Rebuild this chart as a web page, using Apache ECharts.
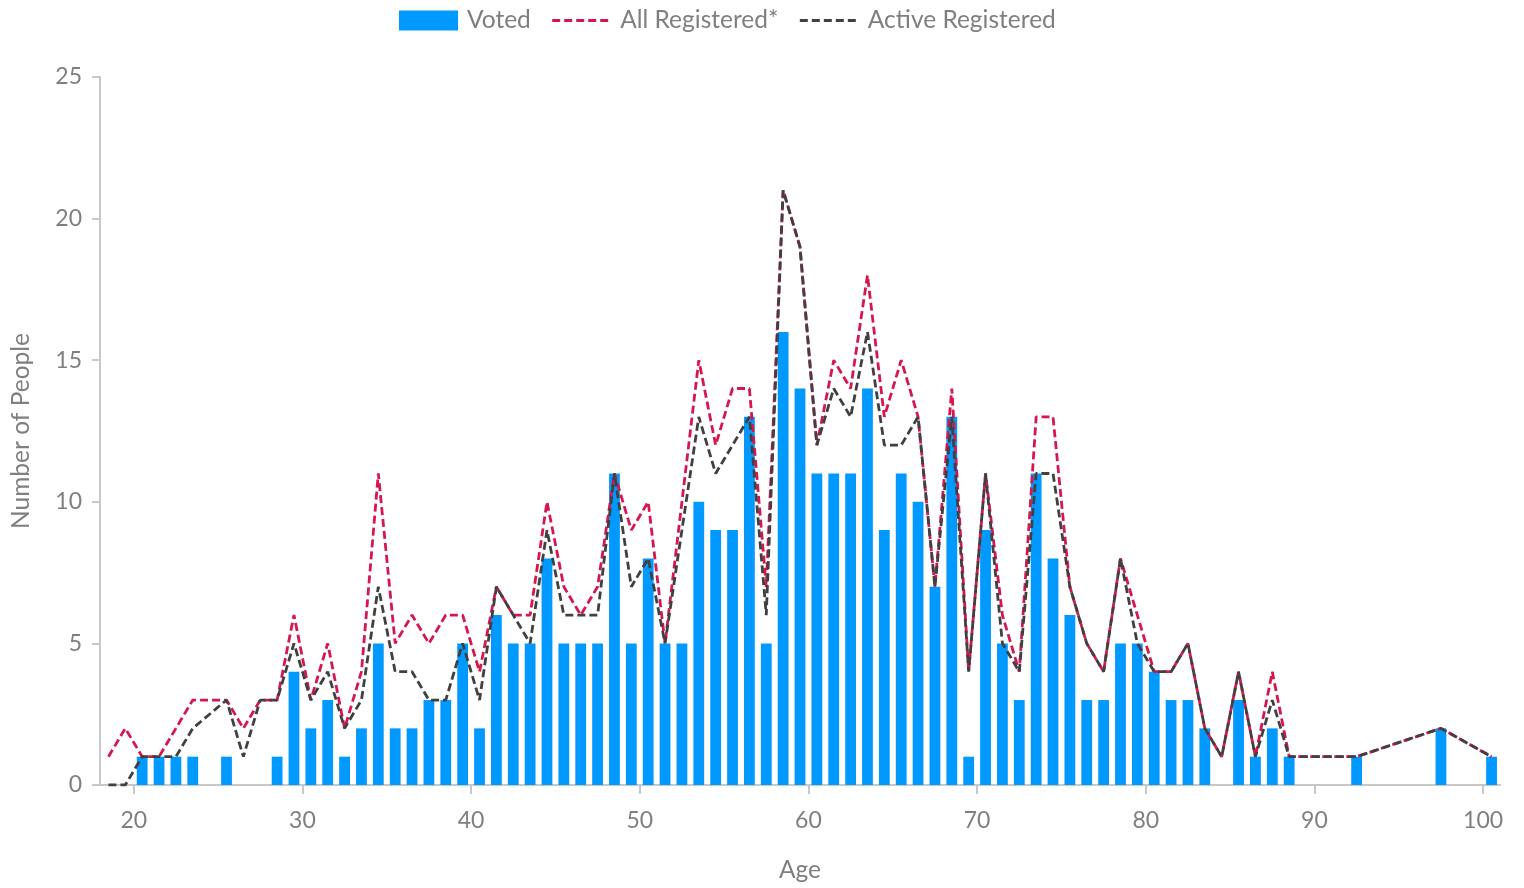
<!DOCTYPE html>
<html>
<head>
<meta charset="utf-8">
<script src="https://cdn.jsdelivr.net/npm/echarts@6/dist/echarts.min.js"></script>
<style>
html,body{margin:0;padding:0;background:#fff;}
#chart{width:1524px;height:888px;}
</style>
</head>
<body>
<div id="chart"></div>
<script>
// Ages 18..100 (categories)
const ages = [];
for (let a = 18; a <= 100; a++) ages.push(String(a));

// Voted (bars), ages 18..100
const voted = [
  0, 0, 1, 1, 1, 1, 0, 1, 0, 0,      // 18-27
  1, 4, 2, 3, 1, 2, 5, 2, 2, 3,      // 28-37
  3, 5, 2, 6, 5, 5, 8, 5, 5, 5,      // 38-47
  11, 5, 8, 5, 5, 10, 9, 9, 13, 5,   // 48-57
  16, 14, 11, 11, 11, 14, 9, 11, 10, 7, // 58-67
  13, 1, 9, 5, 3, 11, 8, 6, 3, 3,    // 68-77
  5, 5, 4, 3, 3, 2, 0, 3, 1, 2,      // 78-87
  1, 0, 0, 0, 1, 0, 0, 0, 0, 2,      // 88-97
  0, 0, 1                            // 98-100
];

// All Registered*, ages 18..100 (null = no data)
const allRegistered = [
  1, 2, 1, 1, 2, 3, null, 3, 2, 3,   // 18-27
  3, 6, 3, 5, 2, 4, 11, 5, 6, 5,     // 28-37
  6, 6, 4, 7, 6, 6, 10, 7, 6, 7,     // 38-47
  11, 9, 10, 5, 10, 15, 12, 14, 14, 7, // 48-57
  21, 19, 12, 15, 14, 18, 13, 15, 13, 7, // 58-67
  14, 4, 11, 6, 4, 13, 13, 7, 5, 4,  // 68-77
  8, 6, 4, 4, 5, 2, 1, 4, 1, 4,      // 78-87
  1, null, null, null, 1, null, null, null, null, 2, // 88-97
  null, null, 1                      // 98-100
];

// Active Registered, ages 18..100
const activeRegistered = [
  0, 0, 1, 1, 1, 2, null, 3, 1, 3,   // 18-27
  3, 5, 3, 4, 2, 3, 7, 4, 4, 3,      // 28-37
  3, 5, 3, 7, 6, 5, 9, 6, 6, 6,      // 38-47
  11, 7, 8, 5, 9, 13, 11, 12, 13, 6, // 48-57
  21, 19, 12, 14, 13, 16, 12, 12, 13, 7, // 58-67
  13, 4, 11, 5, 4, 11, 11, 7, 5, 4,  // 68-77
  8, 5, 4, 4, 5, 2, 1, 4, 1, 3,      // 78-87
  1, null, null, null, 1, null, null, null, null, 2, // 88-97
  null, null, 1                      // 98-100
];

const xTickLabels = [20, 30, 40, 50, 60, 70, 80, 90, 100];

const FONT = 'Lato';
const GREY_TEXT = '#7f7f7f';
const AXIS_GREY = '#c8c8c8';
const RED = '#d6174f';
const DARK = '#404040';

const chart = echarts.init(document.getElementById('chart'), null, {renderer: 'canvas'});
chart.setOption({
  animation: false,
  backgroundColor: '#ffffff',
  textStyle: {fontFamily: FONT},
  legend: {
    top: 3,
    left: 394,
    itemWidth: 59,
    itemHeight: 20,
    itemGap: 20,
    textStyle: {fontFamily: FONT, fontSize: 24.5, color: GREY_TEXT, padding: [0, 0, 0, 4]},
    data: [
      {name: 'Voted', icon: 'rect'},
      {name: 'All Registered*', itemStyle: {opacity: 0}, lineStyle: {width: 2.8, type: [8, 4], color: RED}},
      {name: 'Active Registered', itemStyle: {opacity: 0}, lineStyle: {width: 2.8, type: [8, 4], color: DARK}}
    ]
  },
  grid: {left: 100, right: 24, top: 77, bottom: 100, containLabel: false},
  xAxis: [
    {
      type: 'category',
      data: ages,
      boundaryGap: true,
      name: 'Age',
      nameLocation: 'middle',
      nameGap: 73,
      nameTextStyle: {fontFamily: FONT, fontSize: 24.5, color: GREY_TEXT},
      axisLine: {show: true, lineStyle: {color: AXIS_GREY, width: 2}},
      axisTick: {show: false},
      axisLabel: {show: false},
      splitLine: {show: false}
    },
    {
      type: 'value',
      min: 18,
      max: 101,
      position: 'bottom',
      axisLine: {show: false},
      axisTick: {show: true, length: 9, customValues: xTickLabels, lineStyle: {color: AXIS_GREY, width: 2}},
      axisLabel: {show: true, customValues: xTickLabels, margin: 24, fontFamily: FONT, fontSize: 23, color: GREY_TEXT},
      splitLine: {show: false}
    }
  ],
  yAxis: {
    type: 'value',
    min: 0,
    max: 25,
    interval: 5,
    name: 'Number of People',
    nameLocation: 'middle',
    nameGap: 66,
    nameTextStyle: {fontFamily: FONT, fontSize: 24.5, color: GREY_TEXT},
    axisLine: {show: true, lineStyle: {color: AXIS_GREY, width: 2}},
    axisTick: {show: true, length: 8, lineStyle: {color: AXIS_GREY, width: 2}},
    axisLabel: {margin: 18, fontFamily: FONT, fontSize: 23, color: GREY_TEXT},
    splitLine: {show: false}
  },
  series: [
    {
      name: 'Voted',
      type: 'bar',
      xAxisIndex: 0,
      data: voted,
      barWidth: '64%',
      itemStyle: {color: '#0099ff'}
    },
    {
      name: 'All Registered*',
      type: 'line',
      xAxisIndex: 0,
      data: allRegistered,
      connectNulls: true,
      symbol: 'none',
      color: RED,
      lineStyle: {color: RED, width: 2.8, type: [8, 4]}
    },
    {
      name: 'Active Registered',
      type: 'line',
      xAxisIndex: 0,
      data: activeRegistered,
      connectNulls: true,
      symbol: 'none',
      color: DARK,
      lineStyle: {color: DARK, width: 2.8, type: [8, 4]}
    }
  ]
});
</script>
</body>
</html>
